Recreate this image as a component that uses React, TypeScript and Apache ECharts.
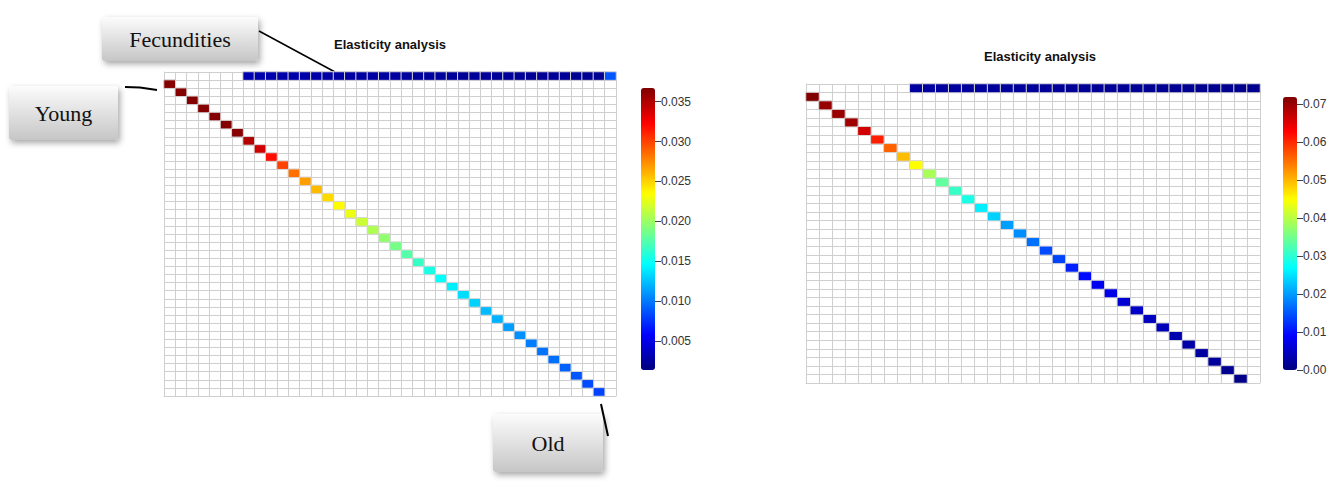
import React, { useEffect, useRef } from "react";
import * as echarts from "echarts";

// ---- data ----
// Left matrix: 40 age classes. Sub-diagonal (survival) elasticities, columns 0..38 (row = col + 1)
const leftSurvival = [
  0.0365, 0.0365, 0.0365, 0.0365, 0.0365, 0.0365, 0.0364,
  0.0349, 0.0339, 0.0318, 0.03, 0.0284, 0.0268, 0.0258, 0.0247, 0.0236, 0.0228,
  0.0217, 0.0207, 0.0196, 0.0187, 0.0176, 0.0166, 0.0155, 0.0147, 0.0141, 0.0135,
  0.0131, 0.0123, 0.012, 0.0113, 0.0108, 0.0102, 0.0098, 0.0097, 0.0092, 0.0088,
  0.0084, 0.0081,
];
// Left fecundity elasticities (row 0), columns 7..39
const leftFecStart = 7;
const leftFecundity = [
  0.0031, 0.003, 0.003, 0.0029, 0.0029, 0.0028, 0.0028, 0.0027, 0.0027, 0.0026,
  0.0026, 0.0026, 0.0025, 0.0025, 0.0025, 0.0024, 0.0024, 0.0024, 0.0023, 0.0023,
  0.0023, 0.0023, 0.0023, 0.0023, 0.0022, 0.0022, 0.0022, 0.0022, 0.0022, 0.0021,
  0.0021, 0.0021, 0.0088,
];
const leftSize = 40;
const leftRange = [0.0014, 0.0367];
const leftTicks = [0.005, 0.01, 0.015, 0.02, 0.025, 0.03, 0.035];

// Right matrix: 35 age classes
const rightSurvival = [
  0.0716, 0.0702, 0.07, 0.0695, 0.066, 0.0607, 0.056, 0.0495, 0.0449, 0.0388,
  0.0338, 0.0309, 0.0287, 0.0259, 0.0237, 0.0201, 0.019, 0.0169, 0.0143, 0.0137,
  0.0111, 0.0097, 0.0079, 0.0072, 0.0058, 0.005, 0.0046, 0.004, 0.0034, 0.0028,
  0.0024, 0.002, 0.0014, 0.0008,
];
const rightFecStart = 8;
const rightFecundity = [
  0.0023, 0.0023, 0.0022, 0.0022, 0.0021, 0.0021, 0.002, 0.002, 0.0019, 0.0019,
  0.0018, 0.0018, 0.0017, 0.0017, 0.0016, 0.0016, 0.0015, 0.0015, 0.0014, 0.0014,
  0.0013, 0.0013, 0.0012, 0.0012, 0.0012, 0.0011, 0.0011,
];
const rightSize = 35;
const rightRange = [0, 0.0718];
const rightTicks = [0, 0.01, 0.02, 0.03, 0.04, 0.05, 0.06, 0.07];

const titleText = "Elasticity analysis";
const jet = ["#00007F", "#0000FF", "#007FFF", "#00FFFF", "#7FFF7F", "#FFFF00", "#FF7F00", "#FF0000", "#7F0000"];

function buildMatrix(surv: number[], fec: number[], fecStart: number) {
  const out: [number, number, number][] = [];
  fec.forEach((v, i) => out.push([fecStart + i, 0, v]));
  surv.forEach((v, i) => out.push([i, i + 1, v]));
  return out;
}

const idx = (n: number) => Array.from({ length: n }, (_, i) => String(i + 1));

const gridLineColor = "#cfcfcf";

function catAxis(gridIndex: number, n: number, inverse = false) {
  return {
    gridIndex,
    type: "category",
    data: idx(n),
    inverse,
    axisLabel: { show: false },
    axisTick: { show: false },
    axisLine: { show: true, lineStyle: { color: gridLineColor, width: 1 } },
    splitLine: { show: true, interval: 0, lineStyle: { color: gridLineColor, width: 1 } },
  };
}

function barAxis(gridIndex: number, range: number[], ticks: number[], digits: number) {
  return {
    gridIndex,
    type: "value",
    position: "right",
    min: range[0],
    max: range[1],
    axisLine: { show: false },
    splitLine: { show: false },
    axisTick: { show: true, length: 6, lineStyle: { color: "#444" }, customValues: ticks },
    axisLabel: {
      show: true,
      customValues: ticks,
      formatter: (v: number) => v.toFixed(digits),
      color: "#333",
      fontSize: 12,
      fontFamily: "Liberation Sans, Arial",
      margin: 5,
    },
  };
}

function callout(x: number, y: number, w: number, h: number, label: string) {
  return {
    type: "group",
    children: [
      {
        type: "rect",
        shape: { x, y, width: w, height: h, r: 3 },
        style: {
          fill: new echarts.graphic.LinearGradient(0, 0, 0, 1, [
            { offset: 0, color: "#fcfcfc" },
            { offset: 1, color: "#c6c6c6" },
          ]),
          shadowBlur: 6,
          shadowColor: "rgba(0,0,0,0.35)",
          shadowOffsetX: 2,
          shadowOffsetY: 3,
        },
      },
      {
        type: "text",
        style: {
          text: label,
          x: x + w / 2,
          y: y + h / 2,
          textAlign: "center",
          textVerticalAlign: "middle",
          align: "center",
          verticalAlign: "middle",
          font: '22px "Liberation Serif", "Times New Roman", serif',
          fill: "#111",
        },
      },
    ],
  };
}

export default function App() {
  const ref = useRef<HTMLDivElement>(null);
  useEffect(() => {
    document.body.style.margin = "0";
    const chart = echarts.init(ref.current!, undefined, { renderer: "svg" });
    const option = {
      animation: false,
      backgroundColor: "#ffffff",
      title: [
        {
          text: titleText,
          left: 385,
          top: 33,
          textAlign: "center",
          textStyle: { fontSize: 13, fontWeight: "bold", fontFamily: "Liberation Sans, Arial", color: "#111" },
        },
        {
          text: titleText,
          left: 1035,
          top: 45,
          textAlign: "center",
          textStyle: { fontSize: 13, fontWeight: "bold", fontFamily: "Liberation Sans, Arial", color: "#111" },
        },
      ],
      grid: [
        { left: 164, top: 72, width: 452, height: 324 },
        { left: 806, top: 84, width: 454, height: 299 },
        { left: 655, top: 88, width: 1, height: 282 },
        { left: 1297, top: 97, width: 1, height: 273 },
      ],
      xAxis: [
        catAxis(0, leftSize),
        catAxis(1, rightSize),
        { gridIndex: 2, type: "value", show: false },
        { gridIndex: 3, type: "value", show: false },
      ],
      yAxis: [
        catAxis(0, leftSize, true),
        catAxis(1, rightSize, true),
        barAxis(2, leftRange, leftTicks, 3),
        barAxis(3, rightRange, rightTicks, 2),
      ],
      visualMap: [
        {
          type: "continuous",
          seriesIndex: 0,
          min: leftRange[0],
          max: leftRange[1],
          calculable: false,
          orient: "vertical",
          left: 641,
          top: 88,
          itemWidth: 14,
          itemHeight: 282,
          padding: 0,
          inRange: { color: jet },
          hoverLink: false,
        },
        {
          type: "continuous",
          seriesIndex: 1,
          min: rightRange[0],
          max: rightRange[1],
          calculable: false,
          orient: "vertical",
          left: 1283,
          top: 97,
          itemWidth: 14,
          itemHeight: 273,
          padding: 0,
          inRange: { color: jet },
          hoverLink: false,
        },
      ],
      series: [
        {
          type: "heatmap",
          xAxisIndex: 0,
          yAxisIndex: 0,
          data: buildMatrix(leftSurvival, leftFecundity, leftFecStart),
          itemStyle: { borderColor: "#d6d6d6", borderWidth: 1 },
          emphasis: { disabled: true },
        },
        {
          type: "heatmap",
          xAxisIndex: 1,
          yAxisIndex: 1,
          data: buildMatrix(rightSurvival, rightFecundity, rightFecStart),
          itemStyle: { borderColor: "#d6d6d6", borderWidth: 1 },
          emphasis: { disabled: true },
        },
      ],
      graphic: [
        callout(102, 17, 156, 44, "Fecundities"),
        callout(9, 86, 109, 54, "Young"),
        callout(493, 414, 110, 58, "Old"),
        { type: "line", shape: { x1: 259, y1: 31, x2: 335, y2: 72 }, style: { stroke: "#000", lineWidth: 1.5 } },
        {
          type: "polyline",
          shape: { points: [[125, 87], [140, 87.5], [157, 90]] },
          style: { stroke: "#000", lineWidth: 2, fill: "none" },
        },
        { type: "line", shape: { x1: 601, y1: 404, x2: 608, y2: 436 }, style: { stroke: "#000", lineWidth: 2 } },
      ],
    };
    chart.setOption(option as any);
    return () => chart.dispose();
  }, []);
  return <div ref={ref} style={{ width: 1344, height: 485 }} />;
}
